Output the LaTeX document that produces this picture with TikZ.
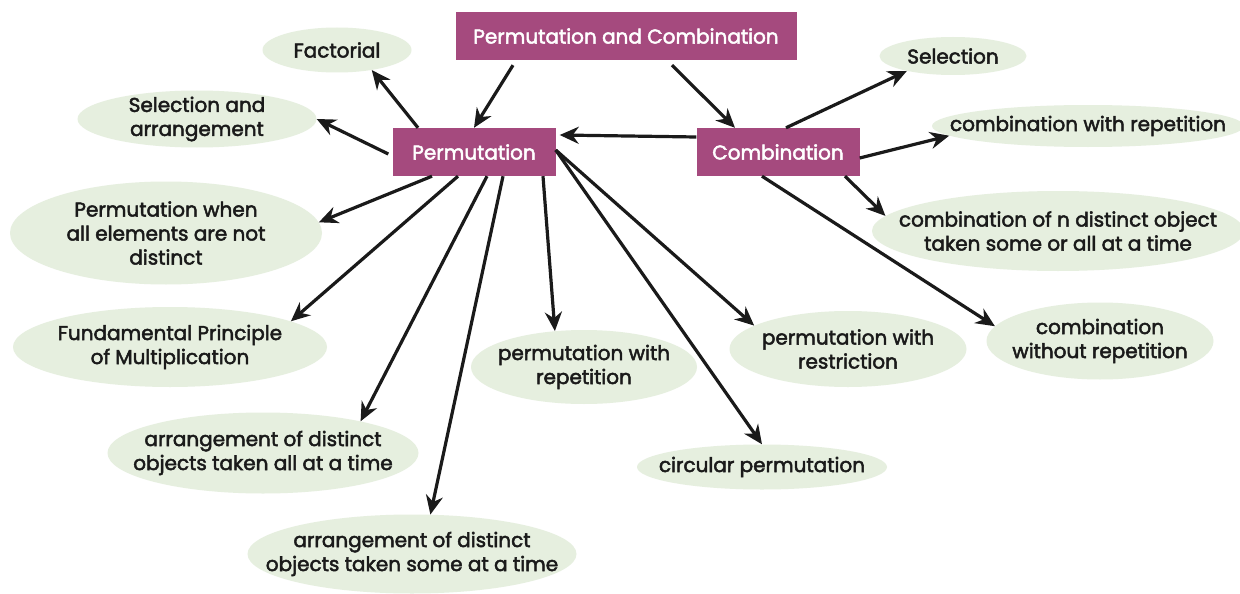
\documentclass[tikz,border=0pt]{standalone}
\usepackage{fontspec}
\setmainfont{Poppins}
\newfontfamily\labelfont{Poppins}[FakeBold=2.4]
\usetikzlibrary{arrows.meta,shapes.geometric}
\definecolor{boxpink}{HTML}{A54A7E}
\definecolor{ovalgreen}{HTML}{E6EFDF}
\definecolor{inkblack}{HTML}{1A1A1A}

\begin{document}
\begin{tikzpicture}[x=1pt,y=1pt,
    every node/.style={font=\labelfont\fontsize{20}{24}\selectfont, align=center},
    box/.style={rectangle, fill=boxpink, text=white, inner sep=0pt},
    oval/.style={ellipse, fill=ovalgreen, text=inkblack, inner xsep=-60pt, inner ysep=-4pt},
    arr/.style={draw=inkblack, line width=3.2pt, -{Stealth[length=19pt,width=17pt]}}]
			%%%%% START %%%%%
			
			\useasboundingbox[fill=white] (0, 0) rectangle (1240, -594);
			
			\node[box, minimum width=341, minimum height=48] (pc) at (626, -36) {Permutation and Combination};
			\node[box, minimum width=163, minimum height=48] (perm) at (474, -152) {Permutation};
			\node[box, minimum width=163, minimum height=48] (comb) at (778, -152) {Combination};
			
			\node[oval, minimum width=149, minimum height=45] (fact) at (337, -50) {Factorial};
			\node[oval, minimum width=239, minimum height=57] (selarr) at (197, -119) {Selection and\\arrangement};
			\node[oval, minimum width=312, minimum height=103] (notdist) at (166, -233) {Permutation when\\all elements are not\\distinct};
			\node[oval, minimum width=314, minimum height=80] (fund) at (170, -347) {Fundamental Principle\\of Multiplication};
			\node[oval, minimum width=311, minimum height=81] (arrall) at (263, -453) {arrangement of distinct\\objects taken all at a time};
			\node[oval, minimum width=329, minimum height=79] (arrsome) at (412, -554) {arrangement of distinct\\objects taken some at a time};
			\node[oval, minimum width=226, minimum height=74] (permrep) at (584, -367) {permutation with\\repetition};
			\node[oval, minimum width=250, minimum height=45] (circ) at (762, -467) {circular permutation};
			\node[oval, minimum width=237, minimum height=76] (restr) at (848, -349) {permutation with\\restriction};
			
			\node[oval, minimum width=147, minimum height=38] (sel) at (953, -56) {Selection};
			\node[oval, minimum width=312, minimum height=42] (combrep) at (1088, -126) {combination with repetition};
			\node[oval, minimum width=372, minimum height=80] (combn) at (1058, -231) {combination of n distinct object\\taken some or all at a time};
			\node[oval, minimum width=227, minimum height=77] (combwo) at (1100, -341) {combination\\without repetition};
			
			% from the top box
			\draw[arr] ([xshift=-113pt, yshift=-5pt]pc.south) -- (perm.north);
			\draw[arr] ([xshift=46pt, yshift=-5pt]pc.south) -- ([xshift=-43pt]comb.north);
			\draw[arr] ([yshift=15pt]comb.west) -- ([xshift=4pt, yshift=17pt]perm.east);
			
			% permutation
			\draw[arr] ([xshift=-56pt]perm.north) -- (fact.-30);
			\draw[arr] ([xshift=-4pt, yshift=-2pt]perm.west) -- (selarr.east);
			\draw[arr] ([xshift=-42pt]perm.south) -- (notdist.4);
			\draw[arr] ([xshift=-16pt]perm.south) -- (fund.12);
			\draw[arr] ([xshift=13pt]perm.south) -- (arrall.18);
			\draw[arr] ([xshift=29pt]perm.south) -- (arrsome.65);
			\draw[arr] ([xshift=69pt]perm.south) -- (permrep.129);
			\draw[arr] ([yshift=2pt]perm.east) -- (circ.north);
			\draw[arr] ([yshift=2pt]perm.east) -- (restr.166);
			
			% combination
			\draw[arr] ([xshift=8pt]comb.north) -- (sel.198);
			\draw[arr] ([yshift=-6pt]comb.east) -- (combrep.184);
			\draw[arr] ([xshift=67pt]comb.south) -- (combn.175);
			\draw[arr] ([xshift=-16pt]comb.south) -- (combwo.172);
			
			%%%%% END %%%%%
\end{tikzpicture}
\end{document}
